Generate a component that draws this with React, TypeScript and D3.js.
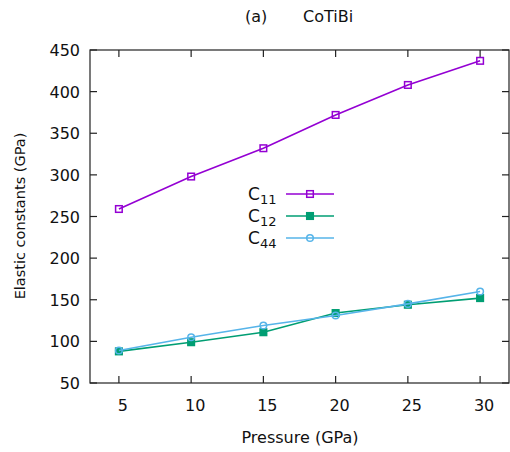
import React, { useEffect, useRef } from "react";
import * as d3 from "d3";

const pressure = [5, 10, 15, 20, 25, 30];
const c11 = [259, 298, 332, 372, 408, 437];
const c12 = [88, 99, 111, 134, 144, 152];
const c44 = [89, 105, 119, 131, 145, 160];
const yTicks = [50, 100, 150, 200, 250, 300, 350, 400, 450];
const xTicks = [5, 10, 15, 20, 25, 30];

const series = [
  { name: "11", values: c11, color: "#9400d3", marker: "openSquare" },
  { name: "12", values: c12, color: "#009e73", marker: "filledSquare" },
  { name: "44", values: c44, color: "#56b4e9", marker: "openCircle" },
];

const FONT = "'DejaVu Sans', Verdana, sans-serif";

export default function App() {
  const ref = useRef<SVGSVGElement>(null);

  useEffect(() => {
    const svg = d3.select(ref.current);
    svg.selectAll("*").remove();

    const left = 90, right = 509, top = 50, bottom = 383;
    const x = d3.scaleLinear().domain([3, 32]).range([left, right]);
    const y = d3.scaleLinear().domain([50, 450]).range([bottom, top]);

    // frame
    svg.append("rect").attr("x", left).attr("y", top).attr("width", right - left).attr("height", bottom - top)
      .attr("fill", "none").attr("stroke", "#222").attr("stroke-width", 1.2);

    const tl = 7;
    const tk = svg.append("g").attr("stroke", "#222").attr("stroke-width", 1.2);
    xTicks.forEach(v => {
      tk.append("line").attr("x1", x(v)).attr("x2", x(v)).attr("y1", bottom).attr("y2", bottom - tl);
      tk.append("line").attr("x1", x(v)).attr("x2", x(v)).attr("y1", top).attr("y2", top + tl);
    });
    yTicks.forEach(v => {
      tk.append("line").attr("x1", left).attr("x2", left + tl).attr("y1", y(v)).attr("y2", y(v));
      tk.append("line").attr("x1", right).attr("x2", right - tl).attr("y1", y(v)).attr("y2", y(v));
    });

    svg.append("g").selectAll("text").data(xTicks).join("text")
      .attr("x", d => x(d) + 4).attr("y", 411).attr("text-anchor", "middle")
      .attr("font-family", FONT).attr("font-size", 16).attr("fill", "#111").text(d => d);
    svg.append("g").selectAll("text").data(yTicks).join("text")
      .attr("x", 80).attr("y", d => y(d) + 6).attr("text-anchor", "end")
      .attr("font-family", FONT).attr("font-size", 16).attr("fill", "#111").text(d => d);

    svg.append("text").attr("x", 300).attr("y", 443).attr("text-anchor", "middle")
      .attr("font-family", FONT).attr("font-size", 16).attr("fill", "#111").text("Pressure (GPa)");
    svg.append("text").attr("transform", "translate(25,216) rotate(-90)").attr("text-anchor", "middle")
      .attr("font-family", FONT).attr("font-size", 14.5).attr("fill", "#111").text("Elastic constants (GPa)");
    svg.append("text").attr("x", 245).attr("y", 22)
      .attr("font-family", FONT).attr("font-size", 16).attr("fill", "#111").text("(a)");
    svg.append("text").attr("x", 303).attr("y", 22)
      .attr("font-family", FONT).attr("font-size", 16).attr("fill", "#111").text("CoTiBi");

    const drawMarker = (g: any, cx: number, cy: number, s: any) => {
      if (s.marker === "openCircle") {
        g.append("circle").attr("cx", cx).attr("cy", cy).attr("r", 3.3)
          .attr("fill", "none").attr("stroke", s.color).attr("stroke-width", 1.5);
      } else {
        g.append("rect").attr("x", cx - 3.3).attr("y", cy - 3.3).attr("width", 6.6).attr("height", 6.6)
          .attr("fill", s.marker === "filledSquare" ? s.color : "none").attr("stroke", s.color).attr("stroke-width", 1.5);
      }
    };

    const line = d3.line<number>().x((d, i) => x(pressure[i])).y(d => y(d));
    series.forEach(s => {
      const g = svg.append("g");
      g.append("path").attr("d", line(s.values)).attr("fill", "none").attr("stroke", s.color).attr("stroke-width", 1.6);
      s.values.forEach((v, i) => drawMarker(g, x(pressure[i]), y(v), s));
    });

    // legend
    series.forEach((s, i) => {
      const ly = 194 + i * 22;
      const g = svg.append("g");
      const t = g.append("text").attr("x", 248).attr("y", ly + 6).attr("font-family", FONT).attr("font-size", 17).attr("fill", "#111");
      t.append("tspan").text("C");
      t.append("tspan").attr("font-size", 13).attr("dy", 4).text(s.name);
      g.append("line").attr("x1", 286).attr("x2", 334).attr("y1", ly).attr("y2", ly)
        .attr("stroke", s.color).attr("stroke-width", 1.6);
      drawMarker(g, 310, ly, s);
    });
  }, []);

  return (
    <svg ref={ref} width={510} height={452} style={{ position: "absolute", left: 0, top: 0, background: "#fff" }} />
  );
}
